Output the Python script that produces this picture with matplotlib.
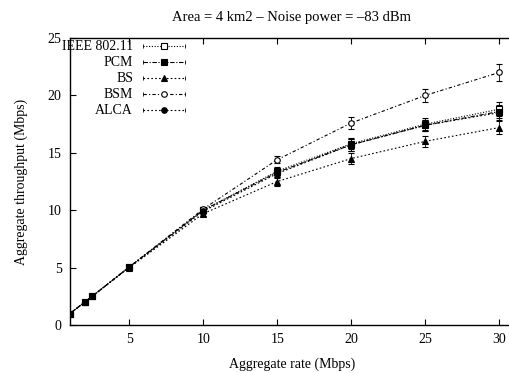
import matplotlib
matplotlib.use("Agg")
import matplotlib.pyplot as plt
from matplotlib.lines import Line2D

plt.rcParams["font.family"] = ["Liberation Serif", "DejaVu Serif"]
plt.rcParams["font.size"] = 10

rates = [1, 2, 2.5, 5, 10, 15, 20, 25, 30]
names = ["IEEE 802.11", "PCM", "BS", "BSM", "ALCA"]
ieee = [1.0, 2.0, 2.5, 5.05, 10.0, 13.4, 15.8, 17.5, 18.8]
pcm = [1.0, 2.0, 2.5, 5.05, 10.0, 13.3, 15.7, 17.4, 18.6]
bs = [1.0, 2.0, 2.5, 5.0, 9.7, 12.5, 14.5, 16.0, 17.2]
bsm = [1.0, 2.0, 2.5, 5.05, 10.1, 14.4, 17.6, 20.0, 22.0]
alca = [1.0, 2.0, 2.5, 5.05, 9.9, 13.2, 15.7, 17.4, 18.5]
ieee_err = [0.02, 0.03, 0.03, 0.05, 0.2, 0.4, 0.5, 0.5, 0.6]
pcm_err = [0.02, 0.03, 0.03, 0.05, 0.2, 0.4, 0.5, 0.5, 0.6]
bs_err = [0.02, 0.03, 0.03, 0.05, 0.2, 0.4, 0.5, 0.5, 0.6]
bsm_err = [0.02, 0.03, 0.03, 0.05, 0.2, 0.3, 0.5, 0.6, 0.7]
alca_err = [0.02, 0.03, 0.03, 0.05, 0.2, 0.4, 0.5, 0.5, 0.6]

series = [ieee, pcm, bs, bsm, alca]
errors = [ieee_err, pcm_err, bs_err, bsm_err, alca_err]
# gnuplot-ish styles: (linestyle, marker, filled)
styles = [
    ((0, (1, 1.5)), "s", False),
    ((0, (4, 1.5, 1, 1.5)), "s", True),
    ((0, (1.5, 2)), "^", True),
    ((0, (3, 2, 1, 2)), "o", False),
    ((0, (1.5, 2)), "o", True),
]

fig = plt.figure(figsize=(5.09, 3.73), dpi=100)
# right border sits just past the image edge, like the original
ax = fig.add_axes([0.1375, 0.1287, 0.8723, 0.7693])

for vals, err, (ls, mk, filled) in zip(series, errors, styles):
    ax.errorbar(rates, vals, yerr=err, color="black", lw=0.8, ls=ls,
                marker=mk, ms=4.5 if mk == "s" else 4,
                mfc="black" if filled else "white", mec="black", mew=0.8,
                elinewidth=0.6, capsize=2, capthick=0.6, zorder=3)

ax.set_xlim(1, 31)
ax.set_ylim(0, 25)
ax.set_xticks([5, 10, 15, 20, 25, 30])
ax.set_yticks([0, 5, 10, 15, 20, 25])
ax.tick_params(direction="in", top=True, right=False, length=4, width=0.8, pad=6)
for s in ax.spines.values():
    s.set_linewidth(1.0)

ax.set_xlabel("Aggregate rate (Mbps)", labelpad=8)
ax.set_ylabel("Aggregate throughput (Mbps)", labelpad=14)
ax.set_title("Area = 4 km2 \u2013 Noise power = \u201383 dBm", pad=12, fontsize=10.5)

# gnuplot-style key: label right-aligned, sample line to its right
row0 = 0.972
step = 0.0557
for i, (name, (ls, mk, filled)) in enumerate(zip(names, styles)):
    y = row0 - i * step
    ax.text(0.142, y, name, ha="right", va="center", transform=ax.transAxes)
    ax.add_line(Line2D([0.164, 0.259], [y, y], transform=ax.transAxes,
                       color="black", lw=0.8, ls=ls))
    ax.add_line(Line2D([0.164, 0.259], [y, y], transform=ax.transAxes,
                       color="black", lw=0, marker="|", ms=3, mew=0.6))
    ax.add_line(Line2D([0.212], [y], transform=ax.transAxes, color="black",
                       lw=0, marker=mk, ms=4.5 if mk == "s" else 4,
                       mfc="black" if filled else "white", mec="black", mew=0.8))

fig.savefig("out.png", dpi=100)
